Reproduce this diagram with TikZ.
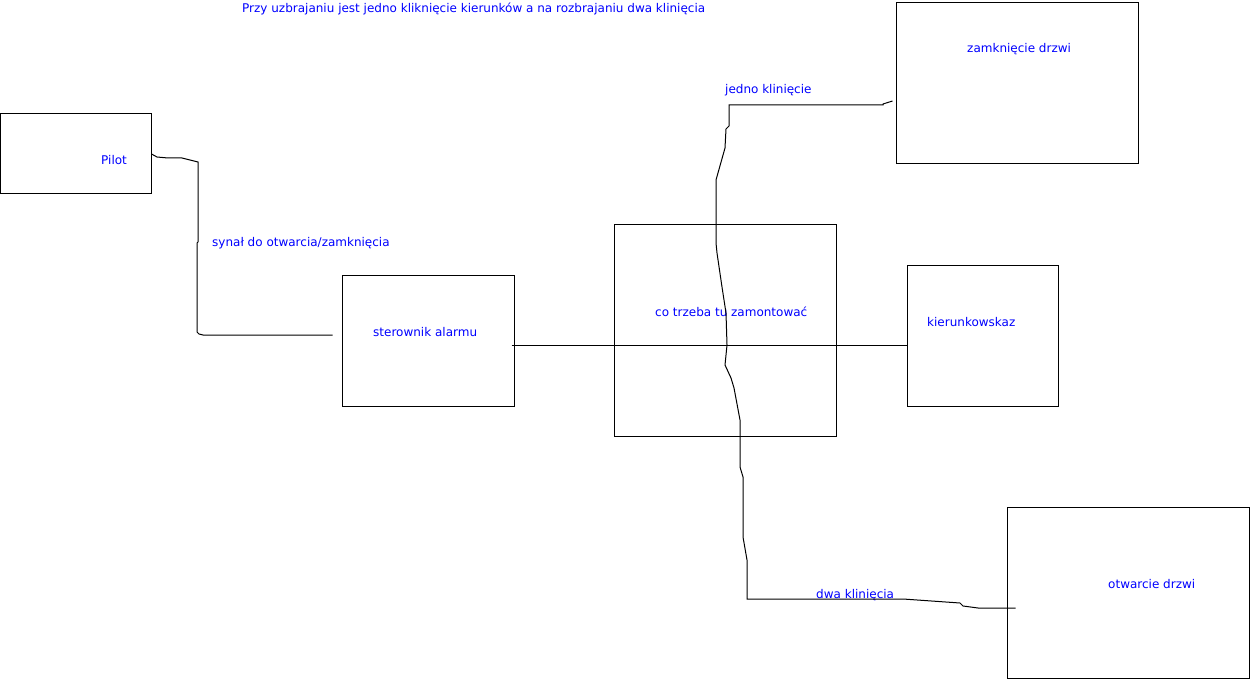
\documentclass[tikz,border=0pt]{standalone}
\usepackage{fontspec}
\setmainfont{DejaVu Sans}
\usetikzlibrary{calc,positioning}

\begin{document}
\begin{tikzpicture}[x=1pt, y=-1pt,
            box/.style = {draw, line width=1pt, inner sep=0pt},
            txt/.style = {text=blue, font=\fontsize{12}{14}\selectfont, inner sep=0pt, anchor=base west},
            wire/.style = {draw, line width=1pt},
        ]
        \useasboundingbox (0,0) rectangle (1250,679);

        % boxes
        \node[box, minimum width=151pt, minimum height=80pt]  (pilot) at (75.5,154) {};
        \node[box, minimum width=172pt, minimum height=131pt] (ster)  at (428,340.5) {};
        \node[box, minimum width=222pt, minimum height=211pt] (cotrz) at (725,330.5) {};
        \node[box, minimum width=151pt, minimum height=141pt] (kier)  at (982.5,335.5) {};
        \node[box, minimum width=242pt, minimum height=161pt] (zamk)  at (1017,83.5) {};
        \node[box, minimum width=242pt, minimum height=171pt] (otw)   at (1128,592.5) {};

        % texts
        \node[txt] (opis)   at (242,13)  {Przy uzbrajaniu jest jedno kliknięcie kierunków a na rozbrajaniu dwa klinięcia};
        \node[txt] (pilotT) at (101,165) {Pilot};
        \node[txt] (sterT)  at (373,336) {sterownik alarmu};
        \node[txt] (cotrzT) at (655,316) {co trzeba tu zamontować};
        \node[txt] (kierT)  at (927,326) {kierunkowskaz};
        \node[txt] (zamkT)  at (967,53)  {zamknięcie drzwi};
        \node[txt] (otwT)   at (1108,588) {otwarcie drzwi};
        \node[txt] (synal)  at (212,246) {synał do otwarcia/zamknięcia};
        \node[txt] (jedno)  at (725,94)  {jedno klinięcie};
        \node[txt] (dwa)    at (816,598) {dwa klinięcia};

        % free ends
        \coordinate (sterIn)  at ($(ster.west)+(-9,-5.5)$);
        \coordinate (sterOut) at ($(ster.east)+(-3,4.5)$);
        \coordinate (zamkIn)  at ($(zamk.west)+(-3,17.5)$);
        \coordinate (otwIn)   at ($(otw.west)+(9,15.5)$);

        % wires
        \draw[wire] (pilot.east) -- (157,157) -- (168,158) -- (182,158) -- (198,162) -- (198,242)
            -- (197,243) -- (197,332) -- (199,334) -- (203,335) -- (sterIn);
        \draw[wire] (sterOut) -- (sterOut -| kier.west);
        \draw[wire] (zamkIn) -- (883,104) -- (883,105) -- (729,105) -- (729,126) -- (726,129) -- (725,148)
            -- (716,180) -- (716,243) -- (717,253) -- (722,287) -- (726,313) -- (727,345) -- (725,365)
            -- (731,378) -- (734,388) -- (740,420) -- (740,467) -- (743,477) -- (743,537) -- (747,560)
            -- (747,599) -- (878,599) -- (903,599) -- (960,603) -- (963,606) -- (978,608) -- (otwIn);
    \end{tikzpicture}
\end{document}
